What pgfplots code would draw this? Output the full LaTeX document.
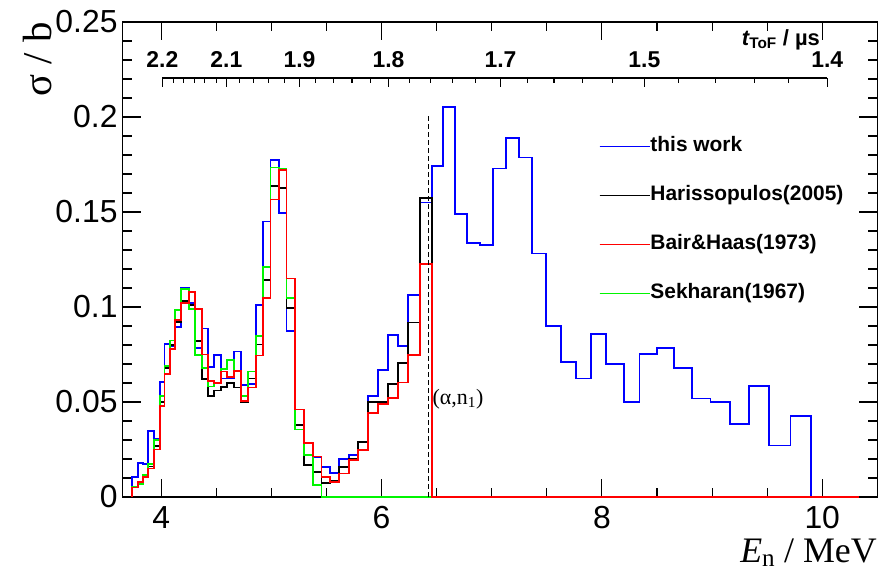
\documentclass[border=0pt]{standalone}
\usepackage{graphicx}
\usepackage{pgfplots}
\pgfplotsset{compat=1.18}
\usepackage{fontspec}
\setmainfont{Liberation Sans}
\newfontfamily\seriffont{Liberation Serif}
\definecolor{rblue}{RGB}{0,0,255}
\definecolor{rred}{RGB}{255,0,0}
\definecolor{rgreen}{RGB}{0,245,0}
\begin{document}
\begin{tikzpicture}[x=1bp,y=1bp]
\useasboundingbox (0,0) rectangle (887,578);
\begin{axis}[
  at={(122.7bp,81bp)}, anchor=south west,
  scale only axis, width=754.6bp, height=475bp,
  xmin=3.65, xmax=10.5, ymin=0, ymax=0.25,
  clip=false,
  xtick={4,6,8,10}, xticklabels={4,6,8,10}, minor x tick num=3,
  ytick={0,0.05,0.1,0.15,0.2,0.25}, yticklabels={0,0.05,0.1,0.15,0.2,0.25}, minor y tick num=4,
  major tick length=18bp, minor tick length=9bp,
  tick style={line width=1.1bp, black},
  axis line style={line width=1.2bp},
  ticklabel style={font=\fontsize{32}{36}\selectfont},
  xticklabel style={inner sep=0pt, yshift=-9bp},
  yticklabel style={inner sep=0pt, xshift=-5bp},
  legend style={at={(axis description cs:0.627,0.763)}, anchor=north west, draw=none, fill=none,
    font=\fontsize{21}{25}\selectfont\bfseries, row sep=30bp,
    nodes={inner sep=0pt, text height=15bp, text depth=4bp}},
  legend cell align=left,
  legend image code/.code={\draw[#1] (0bp,0bp) -- (43bp,0bp); \path (0bp,0bp) -- (50bp,0bp);},
  const plot,
]
% this work
\addplot[rblue, line width=1.8bp, forget plot] coordinates {
(3.733,0) (3.733,0.0106) (3.788,0.0177) (3.833,0.0172) (3.879,0.0346) (3.933,0.0305)
(3.985,0.0606) (4.030,0.0807) (4.076,0.0794) (4.127,0.0895) (4.182,0.1103) (4.251,0.1020)
(4.309,0.0784) (4.369,0.0887) (4.424,0.0683) (4.479,0.0748) (4.545,0.0624) (4.600,0.0624)
(4.660,0.0766) (4.727,0.0589) (4.791,0.0595) (4.857,0.1011) (4.924,0.145) (4.991,0.1773)
(5.069,0.1493) (5.136,0.0872) (5.211,0.046) (5.293,0.0284) (5.376,0.021) (5.454,0.0156)
(5.530,0.0128) (5.614,0.0199) (5.705,0.022) (5.787,0.029) (5.878,0.0532) (5.969,0.0668)
(6.060,0.0851) (6.151,0.0794) (6.242,0.1064) (6.348,0.155) (6.454,0.1743) (6.560,0.2053)
(6.666,0.1489) (6.772,0.1335) (6.893,0.1326) (7.009,0.1729) (7.130,0.1888) (7.248,0.1787)
(7.363,0.1282) (7.494,0.0899) (7.630,0.0709) (7.763,0.0624) (7.903,0.0856) (8.039,0.070)
(8.197,0.050) (8.342,0.0754) (8.500,0.0785) (8.657,0.0677) (8.818,0.0518) (8.985,0.050)
(9.160,0.0385) (9.333,0.0585) (9.515,0.0271) (9.712,0.0426) (9.900,0)
};
% Harissopulos
\addplot[black, line width=1.8bp, forget plot] coordinates {
(3.733,0) (3.733,0.005) (3.788,0.007) (3.833,0.0106) (3.879,0.016) (3.933,0.027) (3.985,0.050)
(4.030,0.068) (4.076,0.080) (4.127,0.092) (4.182,0.103) (4.251,0.101) (4.309,0.082) (4.369,0.062)
(4.424,0.053) (4.479,0.056) (4.545,0.058) (4.600,0.060) (4.660,0.0576) (4.727,0.0502) (4.791,0.0624)
(4.857,0.0803) (4.924,0.114) (4.991,0.1635) (5.069,0.1628) (5.136,0.0993) (5.211,0.0378)
(5.293,0.0168) (5.376,0.0133) (5.454,0.0074) (5.530,0.0083) (5.614,0.0156) (5.705,0.0199)
(5.787,0.029) (5.878,0.050) (5.969,0.050) (6.060,0.0594) (6.151,0.0704) (6.242,0.0918)
(6.348,0.1574) (6.454,0)
};
% Sekharan
\addplot[rgreen, line width=1.8bp, forget plot] coordinates {
(3.733,0) (3.733,0.0053) (3.788,0.007) (3.833,0.0115) (3.879,0.0172) (3.933,0.0298) (3.985,0.053)
(4.030,0.0688) (4.076,0.0824) (4.127,0.0984) (4.182,0.1094) (4.251,0.0988) (4.309,0.0748)
(4.369,0.0677) (4.424,0.0582) (4.479,0.060) (4.545,0.0674) (4.600,0.0723) (4.660,0.0665)
(4.727,0.0532) (4.791,0.0661) (4.857,0.0848) (4.924,0.1211) (4.991,0.1734) (5.069,0.1725)
(5.136,0.1046) (5.211,0.0355) (5.293,0.0222) (5.376,0.0062) (5.454,0) (6.454,0)
};
% Bair & Haas
\addplot[rred, line width=1.8bp, forget plot] coordinates {
(3.733,0) (3.733,0.005) (3.788,0.008) (3.833,0.0106) (3.879,0.015) (3.933,0.025) (3.985,0.048)
(4.030,0.0647) (4.076,0.078) (4.127,0.093) (4.182,0.102) (4.251,0.108) (4.309,0.099) (4.369,0.075)
(4.424,0.061) (4.479,0.060) (4.545,0.066) (4.600,0.063) (4.660,0.0665) (4.727,0.0505) (4.791,0.0576)
(4.857,0.0745) (4.924,0.1046) (4.991,0.1566) (5.069,0.172) (5.136,0.115) (5.211,0.046)
(5.293,0.0284) (5.376,0.0213) (5.454,0.0106) (5.530,0.008) (5.614,0.0124) (5.705,0.0195)
(5.787,0.0248) (5.878,0.0443) (5.969,0.0488) (6.060,0.0523) (6.151,0.0603) (6.242,0.0748)
(6.348,0.1227) (6.454,0) (10.33,0)
};
% threshold line
\addplot[black, line width=1.5bp, dash pattern=on 5bp off 3bp, sharp plot, forget plot] coordinates {(6.424,0) (6.424,0.202)};
\node[anchor=west, inner sep=0pt, font=\seriffont\fontsize{22}{26}\selectfont] at (axis cs:6.462,0.0514) {(α,n\textsubscript{1})};
% ToF axis
\draw[line width=1.1bp] (axis cs:4.010,0.2205) -- (axis cs:10.045,0.2205);
\pgfplotsinvokeforeach{4.114,4.205,4.300,4.395,4.499,4.707,4.840,4.976,5.122,5.399,5.565,5.731,5.897,6.250,6.445,6.644,6.851,7.328,7.565,7.825,8.095,8.696,9.028,9.381,9.692}{
  \draw[line width=1.1bp] (axis cs:#1,0.2205) -- ([yshift=-5bp]axis cs:#1,0.2205);
}
\pgfplotsinvokeforeach{4.010,4.591,5.255,6.063,7.079,8.385,10.045}{
  \draw[line width=1.1bp] (axis cs:#1,0.2205) -- ([yshift=-9bp]axis cs:#1,0.2205);
}
\node[anchor=south, yshift=10bp, inner sep=0pt, font=\fontsize{23}{25}\selectfont\bfseries] at (axis cs:4.010,0.2205) {2.2};
\node[anchor=south, yshift=10bp, inner sep=0pt, font=\fontsize{23}{25}\selectfont\bfseries] at (axis cs:4.591,0.2205) {2.1};
\node[anchor=south, yshift=10bp, inner sep=0pt, font=\fontsize{23}{25}\selectfont\bfseries] at (axis cs:5.255,0.2205) {1.9};
\node[anchor=south, yshift=10bp, inner sep=0pt, font=\fontsize{23}{25}\selectfont\bfseries] at (axis cs:6.063,0.2205) {1.8};
\node[anchor=south, yshift=10bp, inner sep=0pt, font=\fontsize{23}{25}\selectfont\bfseries] at (axis cs:7.079,0.2205) {1.7};
\node[anchor=south, yshift=10bp, inner sep=0pt, font=\fontsize{23}{25}\selectfont\bfseries] at (axis cs:8.385,0.2205) {1.5};
\node[anchor=south, yshift=10bp, inner sep=0pt, font=\fontsize{23}{25}\selectfont\bfseries] at (axis cs:10.045,0.2205) {1.4};
\node[anchor=base east, inner sep=0pt, yshift=33bp, font=\fontsize{22}{24}\selectfont\bfseries] at (axis cs:9.98,0.2205) {\itshape t\textsubscript{\upshape ToF}\upshape\ / µs};
% legend
\addlegendimage{rblue, line width=1.4bp}\addlegendentry{this work}
\addlegendimage{black, line width=1.4bp}\addlegendentry{Harissopulos(2005)}
\addlegendimage{rred, line width=1.4bp}\addlegendentry{Bair\&Haas(1973)}
\addlegendimage{rgreen, line width=1.4bp}\addlegendentry{Sekharan(1967)}
\end{axis}
\node[anchor=north, inner sep=0pt] at (38bp,556bp) {\rotatebox{90}{\seriffont\fontsize{41}{45}\selectfont σ / b}};
\node[anchor=base east, inner sep=0pt, font=\seriffont\fontsize{36}{40}\selectfont] at (877bp,15bp) {\itshape E\upshape\textsubscript{n} / MeV};
\end{tikzpicture}
\end{document}
